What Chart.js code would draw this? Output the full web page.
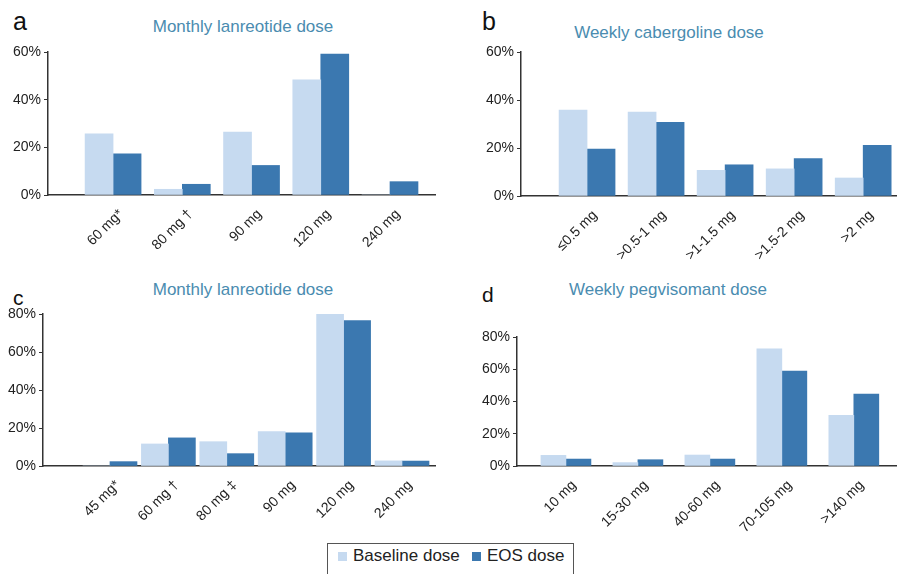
<!DOCTYPE html>
<html>
<head>
<meta charset="utf-8">
<script src="https://cdn.jsdelivr.net/npm/chart.js@4"></script>
<style>
  html, body { margin:0; padding:0; background:#fff; }
  body { width:897px; height:574px; position:relative; overflow:hidden; font-family:"Liberation Sans", Arial, sans-serif; }
  .pane { position:absolute; }
  .letter { position:absolute; color:#111; line-height:1; }
  .ttl { position:absolute; color:#4a8cb0; font-size:17px; line-height:20px; white-space:nowrap; transform:translateX(-50%); }
  #legend { position:absolute; left:327px; top:543px; width:247px; height:40px; border:1px solid #555; box-sizing:border-box; }
  .sw { position:absolute; width:9px; height:9px; top:8px; }
  .lt { position:absolute; top:1px; font-size:17px; color:#222; line-height:22px; white-space:nowrap; }
</style>
</head>
<body>
<div class="letter" style="left:13px;top:9px;font-size:25px;">a</div>
<div class="letter" style="left:482px;top:9px;font-size:25px;">b</div>
<div class="letter" style="left:13px;top:287px;font-size:21px;">c</div>
<div class="letter" style="left:482px;top:284px;font-size:21px;">d</div>
<div class="ttl" style="left:243px;top:17px;">Monthly lanreotide dose</div>
<div class="ttl" style="left:669px;top:23px;">Weekly cabergoline dose</div>
<div class="ttl" style="left:243px;top:280px;">Monthly lanreotide dose</div>
<div class="ttl" style="left:668px;top:280px;">Weekly pegvisomant dose</div>

<div class="pane" style="left:0;top:0;width:450px;height:280px;"><canvas id="ca"></canvas></div>
<div class="pane" style="left:450px;top:0;width:447px;height:280px;"><canvas id="cb"></canvas></div>
<div class="pane" style="left:0;top:280px;width:450px;height:262px;"><canvas id="cc"></canvas></div>
<div class="pane" style="left:450px;top:280px;width:447px;height:262px;"><canvas id="cd"></canvas></div>

<div id="legend">
  <div class="sw" style="left:10px;background:#c6daf0;"></div>
  <div class="lt" style="left:25px;">Baseline dose</div>
  <div class="sw" style="left:144px;background:#3b78b0;"></div>
  <div class="lt" style="left:159px;">EOS dose</div>
</div>

<script>
// ---- data ----
const seriesNames = ['Baseline dose', 'EOS dose'];

const catsA = ['60 mg*', '80 mg \u2020', '90 mg', '120 mg', '240 mg'];
const baseA = [25.7, 2.4, 26.4, 48.3, 0];
const eosA  = [17.3, 4.5, 12.4, 59.1, 5.6];
const ticksA = [0, 20, 40, 60];

const catsB = ['\u22640.5 mg', '>0.5-1 mg', '>1-1.5 mg', '>1.5-2 mg', '>2 mg'];
const baseB = [35.8, 35.0, 10.7, 11.3, 7.5];
const eosB  = [19.5, 30.7, 13.0, 15.6, 21.1];
const ticksB = [0, 20, 40, 60];

const catsC = ['45 mg*', '60 mg \u2020', '80 mg \u2021', '90 mg', '120 mg', '240 mg'];
const baseC = [0, 11.6, 12.8, 18.1, 80.0, 2.7];
const eosC  = [2.3, 14.8, 6.5, 17.4, 76.6, 2.6];
const ticksC = [0, 20, 40, 60, 80];

const catsD = ['10 mg', '15-30 mg', '40-60 mg', '70-105 mg', '>140 mg'];
const baseD = [6.6, 2.1, 6.8, 72.7, 31.4];
const eosD  = [4.3, 3.9, 4.3, 58.9, 44.6];
const ticksD = [0, 20, 40, 60, 80];

// ---- style ----
const LIGHT = '#c6daf0', DARK = '#3b78b0';
const FONT = '"Liberation Sans", Arial, sans-serif';
Chart.defaults.font.family = FONT;
Chart.defaults.color = '#222';

function makeChart(id, cats, base, eos, yTicks, cfg) {
  const toPts = arr => arr.map((v, i) => ({ x: i, y: v }));
  return new Chart(document.getElementById(id), {
    type: 'bar',
    data: {
      datasets: [
        { label: seriesNames[0], data: toPts(base), backgroundColor: LIGHT, barThickness: cfg.bar, borderWidth: 0 },
        { label: seriesNames[1], data: toPts(eos),  backgroundColor: DARK,  barThickness: cfg.bar, borderWidth: 0 }
      ]
    },
    options: {
      responsive: true, maintainAspectRatio: false, animation: false, devicePixelRatio: 1,
      layout: { padding: { top: cfg.top, right: cfg.right, left: 0, bottom: 0 } },
      plugins: { legend: { display: false }, tooltip: { enabled: false } },
      scales: {
        x: {
          type: 'linear', min: cfg.xmin, max: cfg.xmax, offset: false, bounds: 'data',
          afterBuildTicks: s => { s.ticks = cats.map((c, i) => ({ value: i })); },
          afterFit: s => { s.height = cfg.xh; },
          grid: { display: false, offset: false },
          border: { display: true, color: '#333', width: 1.5 },
          ticks: {
            autoSkip: false, minRotation: 45, maxRotation: 45, padding: 3, labelOffset: 8,
            font: { size: 14 }, color: '#222',
            callback: v => cats[v]
          }
        },
        y: {
          min: 0, max: yTicks[yTicks.length - 1],
          afterBuildTicks: s => { s.ticks = yTicks.map(v => ({ value: v })); },
          afterFit: s => { s.width = cfg.yw; },
          grid: { display: true, drawOnChartArea: false, drawTicks: true, tickLength: 4, color: '#333', lineWidth: 1 },
          border: { display: true, color: '#333', width: 1.5 },
          ticks: { padding: 3, font: { size: 14 }, color: '#222', callback: v => v + '%' }
        }
      }
    }
  });
}

makeChart('ca', catsA, baseA, eosA, ticksA, { top: 52, right: 15, yw: 48, xh: 85, xmin: -0.94, xmax: 4.65, bar: 28 });
makeChart('cb', catsB, baseB, eosB, ticksB, { top: 52, right: 0, yw: 71, xh: 84, xmin: -0.957, xmax: 4.49, bar: 28 });
makeChart('cc', catsC, baseC, eosC, ticksC, { top: 34, right: 15, yw: 43, xh: 76, xmin: -1.147, xmax: 5.565, bar: 27 });
makeChart('cd', catsD, baseD, eosD, ticksD, { top: 57, right: 0, yw: 67, xh: 76, xmin: -0.68, xmax: 4.6, bar: 25 });
</script>
</body>
</html>
